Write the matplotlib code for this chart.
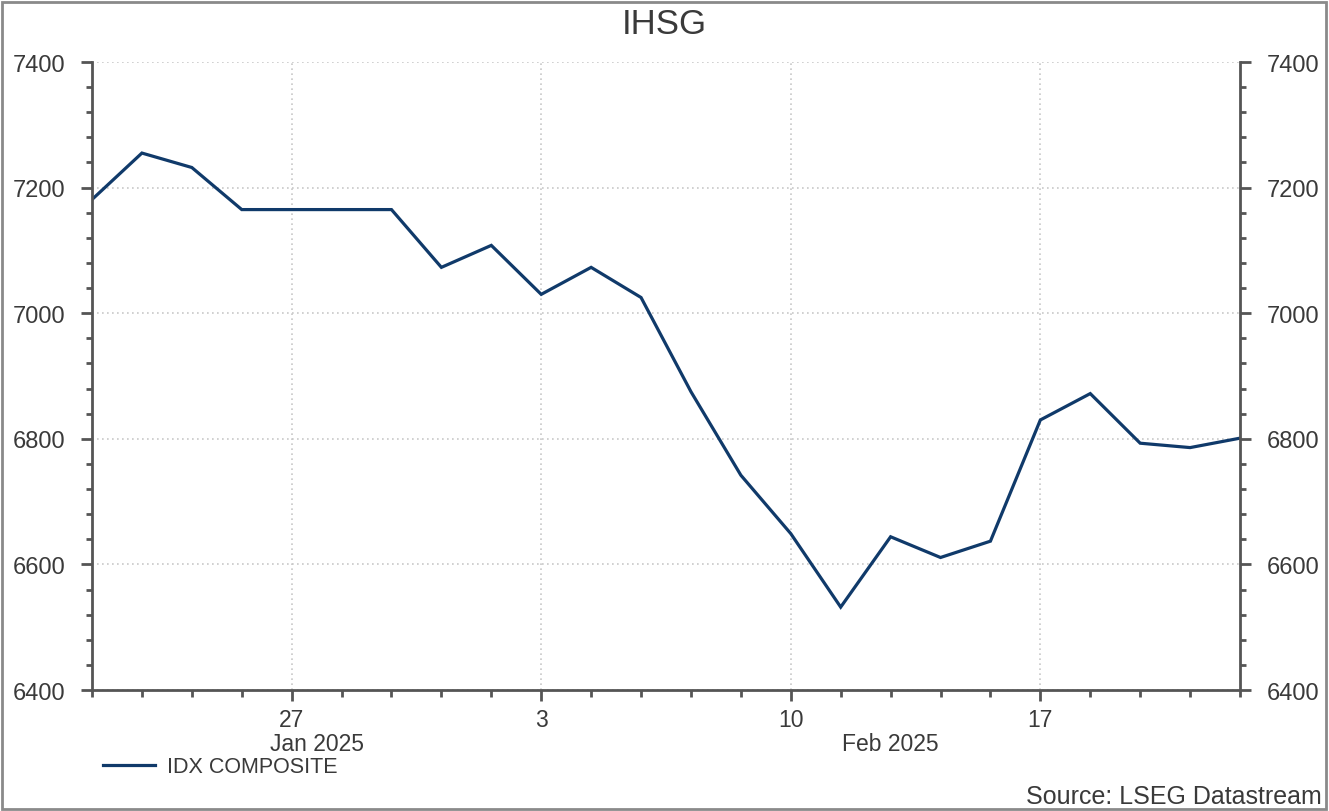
import matplotlib
matplotlib.use("Agg")
import matplotlib.pyplot as plt
from matplotlib.patches import Rectangle
from matplotlib.ticker import FixedLocator, MultipleLocator
import matplotlib.transforms as mtransforms
import pandas as pd

plt.rcParams['font.family'] = ['Liberation Sans', 'DejaVu Sans']

# ---- data ----
dates = ["2025-01-21", "2025-01-22", "2025-01-23", "2025-01-24", "2025-01-27",
         "2025-01-28", "2025-01-29", "2025-01-30", "2025-01-31", "2025-02-03",
         "2025-02-04", "2025-02-05", "2025-02-06", "2025-02-07", "2025-02-10",
         "2025-02-11", "2025-02-12", "2025-02-13", "2025-02-14", "2025-02-17",
         "2025-02-18", "2025-02-19", "2025-02-20", "2025-02-21"]
values = [7181, 7255, 7232, 7165, 7165, 7165, 7165, 7073, 7108, 7030,
          7073, 7025, 6875, 6742, 6649, 6532, 6644, 6611, 6637, 6830,
          6872, 6793, 6786, 6801]
series_name = "IDX COMPOSITE"
title = "IHSG"
source = "Source: LSEG Datastream"
y_ticks = [6400, 6600, 6800, 7000, 7200, 7400]

dt = pd.to_datetime(dates)
idx = list(range(len(dates)))

LINE = "#103a6a"
TXT = "#3a3a3a"
AX = "#555555"

fig = plt.figure(figsize=(13.29, 8.12), dpi=100)
ax = fig.add_axes([92/1329, 1 - 691/812, (1240-92)/1329, (691-63)/812])

ax.plot(idx, values, color=LINE, lw=2.3, label=series_name, solid_joinstyle='miter')

ax.set_xlim(0, len(dates) - 1)
ax.set_ylim(y_ticks[0], y_ticks[-1])

# y axis
ax.yaxis.set_major_locator(FixedLocator(y_ticks))
ax.yaxis.set_minor_locator(MultipleLocator(40))
ax.tick_params(axis='y', which='both', direction='out', left=True, right=True,
               labelleft=True, labelright=True, colors=AX, labelcolor=TXT)
ax.tick_params(axis='y', which='major', length=8, width=2, labelsize=17, pad=11)
ax.tick_params(axis='y', which='minor', length=4.5, width=2)

# x axis: trading-day index, major at Mondays
major_pos = [i for i, d in zip(idx, dt) if d.weekday() == 0]
major_lab = [str(dt[i].day) for i in major_pos]
ax.xaxis.set_major_locator(FixedLocator(major_pos))
ax.set_xticklabels(major_lab)
ax.xaxis.set_minor_locator(FixedLocator(idx))
ax.tick_params(axis='x', which='major', direction='out', length=8, width=2,
               labelsize=16.5, pad=5, colors=AX, labelcolor=TXT)
ax.tick_params(axis='x', which='minor', direction='out', length=5, width=2, colors=AX)

# month labels centered over month spans
trans = mtransforms.blended_transform_factory(ax.transData, ax.transAxes)
months = dt.to_period('M')
first_feb = [i for i in idx if months[i] != months[0]][0]
spans = [(0, first_feb, dt[0].strftime("%b %Y")),
         (first_feb, len(dates) - 1, dt[-1].strftime("%b %Y"))]
for a, b, lab in spans:
    ax.text((a + b) / 2, -0.085, lab, transform=trans, ha='center', va='center',
            fontsize=16.5, color=TXT)

# spines
for s in ['left', 'right', 'bottom']:
    ax.spines[s].set_color(AX)
    ax.spines[s].set_linewidth(2)
ax.spines['top'].set_visible(False)

# grid
ax.grid(True, which='major', linestyle=(0, (1, 2)), color='#c8c8c8', linewidth=1.2)

# title
fig.text(0.5, 1 - 25/812, title, ha='center', va='center', fontsize=25, color=TXT)

# legend
leg = ax.legend(loc='center left', bbox_to_anchor=(103/1329, 1 - 768/812),
                bbox_transform=fig.transFigure, frameon=False, fontsize=15.5,
                handlelength=2.4, handletextpad=0.55, borderpad=0, borderaxespad=0)
for t in leg.get_texts():
    t.set_color(TXT)

# source
fig.text(1322/1329, 1 - 797/812, source, ha='right', va='center', fontsize=18, color=TXT)

# figure border
fig.add_artist(Rectangle((2/1329, 2/812), 1 - 5/1329, 1 - 5/812, transform=fig.transFigure,
                         fill=False, edgecolor='#8a8a8a', linewidth=2))

fig.savefig("out.png", dpi=100)
